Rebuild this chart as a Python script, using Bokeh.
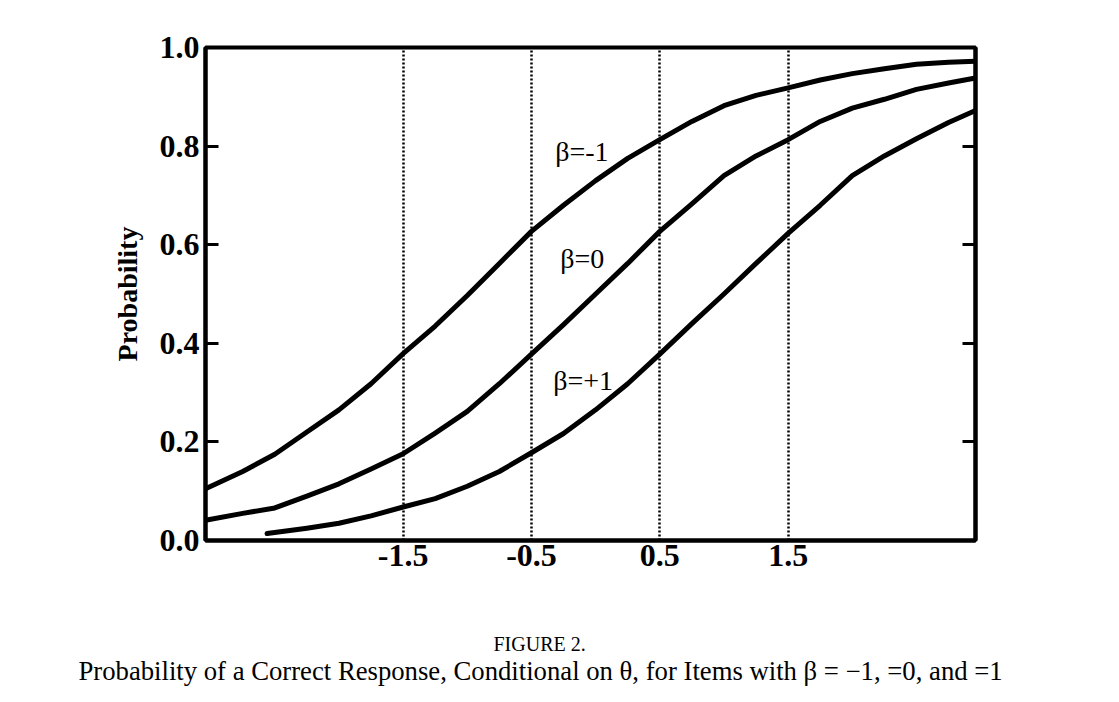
from bokeh.plotting import figure
from bokeh.models import Range1d, LinearAxis, FixedTicker, Label, Title, PrintfTickFormatter
from bokeh.embed import file_html
from bokeh.resources import INLINE

# ---- data ----
theta_m1 = [-3.04, -2.75, -2.5, -2.25, -2.0, -1.75, -1.5, -1.25, -1.0, -0.75, -0.5, -0.25,
            0.0, 0.25, 0.5, 0.75, 1.0, 1.25, 1.5, 1.75, 2.0, 2.25, 2.5, 2.75, 2.96]
prob_m1 = [0.105, 0.14, 0.175, 0.22, 0.265, 0.318, 0.379, 0.435, 0.497, 0.562, 0.627, 0.68,
           0.73, 0.775, 0.813, 0.85, 0.882, 0.903, 0.918, 0.934, 0.947, 0.957, 0.966, 0.97, 0.972]

theta_0 = [-3.04, -2.75, -2.5, -2.25, -2.0, -1.75, -1.5, -1.25, -1.0, -0.75, -0.5, -0.25,
           0.0, 0.25, 0.5, 0.75, 1.0, 1.25, 1.5, 1.75, 2.0, 2.25, 2.5, 2.75, 2.96]
prob_0 = [0.041, 0.055, 0.066, 0.09, 0.115, 0.145, 0.176, 0.218, 0.262, 0.318, 0.378, 0.438,
          0.5, 0.562, 0.627, 0.683, 0.74, 0.78, 0.813, 0.85, 0.877, 0.895, 0.915, 0.928, 0.938]

theta_p1 = [-2.56, -2.25, -2.0, -1.75, -1.5, -1.25, -1.0, -0.75, -0.5, -0.25, 0.0, 0.25,
            0.5, 0.75, 1.0, 1.25, 1.5, 1.75, 2.0, 2.25, 2.5, 2.75, 2.96]
prob_p1 = [0.014, 0.025, 0.035, 0.05, 0.068, 0.085, 0.11, 0.14, 0.178, 0.217, 0.265, 0.318,
           0.378, 0.44, 0.5, 0.562, 0.623, 0.68, 0.74, 0.78, 0.815, 0.848, 0.872]

x_ticks = [-1.5, -0.5, 0.5, 1.5]
y_ticks = [0.0, 0.2, 0.4, 0.6, 0.8, 1.0]
curve_labels = ["\u03b2=-1", "\u03b2=0", "\u03b2=+1"]
y_label = "Probability"
caption_1 = "FIGURE 2."
caption_2 = "Probability of a Correct Response, Conditional on \u03b8, for Items with \u03b2 = \u22121, =0, and =1"

SERIF = "Liberation Serif"

p = figure(width=1119, height=702, output_backend="svg", toolbar_location=None,
           x_range=Range1d(-3.04, 2.96), y_range=Range1d(0, 1),
           min_border_left=205, min_border_right=144, min_border_top=47,
           min_border_bottom=162, x_axis_location="below")
p.background_fill_color = "white"
p.border_fill_color = "white"
p.outline_line_color = "black"
p.outline_line_width = 4

# dotted verticals via x grid
p.ygrid.visible = False
p.xgrid.ticker = FixedTicker(ticks=x_ticks)
p.xgrid.grid_line_color = "black"
p.xgrid.grid_line_width = 2.5
p.xgrid.grid_line_dash = "2 2"

fmt = PrintfTickFormatter(format="%.1f")

# x axis
xa = p.xaxis[0]
xa.ticker = FixedTicker(ticks=x_ticks)
xa.formatter = fmt
xa.major_tick_in = 0
xa.major_tick_out = 0
xa.minor_tick_line_color = None
xa.axis_line_width = 4
xa.major_label_text_font = SERIF
xa.major_label_text_font_style = "bold"
xa.major_label_text_font_size = "32px"
xa.major_label_text_color = "black"
xa.major_label_standoff = 4
# blank axis label used only as a spacer above the caption
xa.axis_label = " "
xa.axis_label_text_font_size = "10px"
xa.axis_label_standoff = 48

# left y axis
ya = p.yaxis[0]
ya.ticker = FixedTicker(ticks=y_ticks)
ya.formatter = fmt
ya.major_tick_in = 13
ya.major_tick_out = 0
ya.major_tick_line_width = 3
ya.minor_tick_line_color = None
ya.axis_line_width = 4
ya.major_label_text_font = SERIF
ya.major_label_text_font_style = "bold"
ya.major_label_text_font_size = "32px"
ya.major_label_text_color = "black"
ya.major_label_standoff = 6
ya.axis_label = y_label
ya.axis_label_text_font = SERIF
ya.axis_label_text_font_style = "bold"
ya.axis_label_text_font_size = "28px"
ya.axis_label_text_color = "black"
ya.axis_label_standoff = 14

# right axis with inward ticks
ra = LinearAxis(ticker=FixedTicker(ticks=y_ticks))
ra.major_tick_in = 13
ra.major_tick_out = 0
ra.major_tick_line_width = 3
ra.minor_tick_line_color = None
ra.axis_line_width = 4
ra.major_label_text_color = None
ra.major_label_text_font_size = "1px"
p.add_layout(ra, "right")

for xs, ys in [(theta_m1, prob_m1), (theta_0, prob_0), (theta_p1, prob_p1)]:
    p.line(xs, ys, line_color="black", line_width=5, line_join="round", line_cap="round")

label_pos = [(-0.315, 0.789), (-0.276, 0.573), (-0.33, 0.325)]
for (lx, ly), txt in zip(label_pos, curve_labels):
    p.add_layout(Label(x=lx, y=ly, text=txt, text_font=SERIF, text_font_size="28px",
                       text_align="left", text_baseline="middle", text_color="black"))

t1 = Title(text=caption_1, align="left", offset=288, standoff=0,
           text_font=SERIF, text_font_size="20px", text_font_style="normal", text_color="black")
t2 = Title(text=caption_2, align="left", offset=-127, standoff=0, vertical_align="middle",
           text_font=SERIF, text_font_size="26.7px", text_font_style="normal", text_color="black")
p.add_layout(t1, "below")
p.add_layout(t2, "below")

open("out.html", "w").write(file_html(p, INLINE))
